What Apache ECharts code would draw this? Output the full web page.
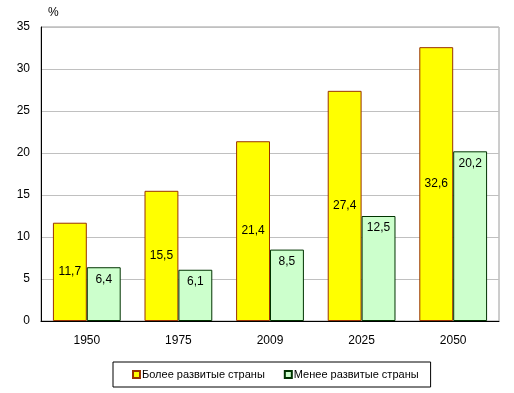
<!DOCTYPE html>
<html><head><meta charset="utf-8">
<script src="https://cdn.jsdelivr.net/npm/echarts@6/dist/echarts.min.js"></script>
<style>html,body{margin:0;padding:0;background:#fff}#c{width:514px;height:393px}</style>
</head><body><div id="c"></div>
<script>
const categories = ['1950', '1975', '2009', '2025', '2050'];
const developed = [11.7, 15.5, 21.4, 27.4, 32.6];
const lessDeveloped = [6.4, 6.1, 8.5, 12.5, 20.2];
const seriesNames = ['Более развитые страны', 'Менее развитые страны'];
const unitLabel = '%';

const font = 'Liberation Sans, Arial, sans-serif';
const fmt = p => String(p.value).replace('.', ',');
const chart = echarts.init(document.getElementById('c'), null, {renderer: 'canvas'});
chart.setOption({
  animation: false,
  textStyle: {fontFamily: font},
  grid: {left: 41, right: 15, top: 27, bottom: 72, show: true, borderColor: '#9a9a9a', borderWidth: 1, backgroundColor: '#fff'},
  legend: {
    left: 113, top: 362,
    padding: [7, 12, 7, 19],
    borderColor: '#000', borderWidth: 1,
    icon: 'rect',
    itemWidth: 7, itemHeight: 7, itemGap: 19,
    textStyle: {fontFamily: font, fontSize: 11, color: '#000', padding: [0, 0, 0, -3]},
    data: seriesNames
  },
  xAxis: {
    type: 'category', data: categories,
    axisLine: {lineStyle: {color: '#000', width: 1}},
    axisTick: {show: false},
    axisLabel: {color: '#000', fontSize: 12, fontFamily: font, margin: 14}
  },
  yAxis: {
    type: 'value', min: 0, max: 35, interval: 5,
    name: unitLabel, nameGap: 8, nameTextStyle: {color: '#000', fontSize: 12, fontFamily: font, align: 'left', padding: [0, 0, 0, 7]},
    axisLine: {show: true, lineStyle: {color: '#000', width: 1}},
    axisTick: {show: false},
    axisLabel: {color: '#000', fontSize: 12, fontFamily: font, margin: 11},
    splitLine: {lineStyle: {color: '#c0c0c0', width: 1}}
  },
  series: [
    {
      name: seriesNames[0], type: 'bar', data: developed,
      barCategoryGap: '26%', barGap: '0%',
      itemStyle: {color: '#ffff00', borderColor: '#993300', borderWidth: 1},
      label: {show: true, position: 'inside', color: '#000', fontSize: 12, fontFamily: font, formatter: fmt}
    },
    {
      name: seriesNames[1], type: 'bar', data: lessDeveloped,
      barCategoryGap: '26%', barGap: '0%',
      itemStyle: {color: '#ccffcc', borderColor: '#003300', borderWidth: 1},
      label: {show: true, position: 'insideTop', distance: 6, color: '#000', fontSize: 12, fontFamily: font, formatter: fmt}
    }
  ]
});
</script></body></html>
